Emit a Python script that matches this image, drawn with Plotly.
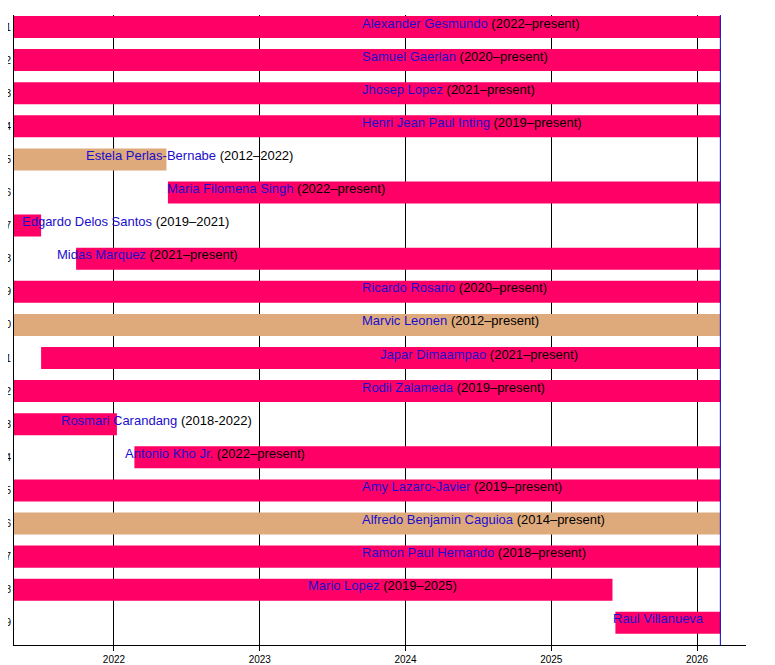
import plotly.graph_objects as go

# seats, top to bottom
seats = [str(i) for i in range(1, 20)]
justices = ["Alexander Gesmundo", "Samuel Gaerlan", "Jhosep Lopez", "Henri Jean Paul Inting",
            "Estela Perlas-Bernabe", "Maria Filomena Singh", "Edgardo Delos Santos",
            "Midas Marquez", "Ricardo Rosario", "Marvic Leonen", "Japar Dimaampao",
            "Rodil Zalameda", "Rosmari Carandang", "Antonio Kho Jr.", "Amy Lazaro-Javier",
            "Alfredo Benjamin Caguioa", "Ramon Paul Hernando", "Mario Lopez", "Raul Villanueva"]
terms = ["(2022–present)", "(2020–present)", "(2021–present)", "(2019–present)",
         "(2012–2022)", "(2022–present)", "(2019–2021)", "(2021–present)", "(2020–present)",
         "(2012–present)", "(2021–present)", "(2019–present)", "(2018-2022)", "(2022–present)",
         "(2019–present)", "(2014–present)", "(2018–present)", "(2019–2025)", ""]
now = 2026.16
starts = [2021.0, 2020.0, 2021.0, 2019.0, 2012.0, 2022.37, 2019.0, 2021.74, 2020.0, 2012.0,
          2021.50, 2019.0, 2018.0, 2022.14, 2019.0, 2014.0, 2018.0, 2019.0, 2025.44]
ends = [now, now, now, now, 2022.36, now, 2021.50, now, now, now,
        now, now, 2022.02, now, now, now, now, 2025.42, now]
group = ["a", "a", "a", "a", "b", "a", "a", "a", "a", "b",
         "a", "a", "a", "a", "a", "b", "a", "a", "a"]
label_at = [2023.71, 2023.71, 2023.71, 2023.71, 2021.815, 2022.37, 2021.375, 2021.616, 2023.71,
            2023.71, 2023.833, 2023.71, 2021.643, 2022.082, 2023.71, 2023.71, 2023.71, 2023.338,
            2025.432]
years = [2022, 2023, 2024, 2025, 2026]

group_colors = {"a": "#FF0066", "b": "#DEAA7B"}
rows = list(range(1, len(seats) + 1))

fig = go.Figure()
fig.add_trace(go.Bar(
    y=rows, base=starts, x=[e - s for s, e in zip(starts, ends)],
    orientation="h", width=0.665,
    marker=dict(color=[group_colors[g] for g in group], line=dict(width=0)),
    hoverinfo="skip",
))

for r, name, term, lx in zip(rows, justices, terms, label_at):
    txt = "<span style='color:#1a0dcc'>" + name + "</span>"
    if term:
        txt += " " + term
    fig.add_annotation(x=lx, y=r, text=txt, showarrow=False, xanchor="left",
                       yanchor="middle", yshift=4, xshift=-3,
                       font=dict(family="Liberation Sans, Arial", size=13, color="black"))

fig.add_shape(type="line", x0=now, x1=now, y0=0, y1=1, yref="y domain",
              line=dict(color="#0000CC", width=1))

fig.update_layout(
    width=775, height=665,
    margin=dict(l=6, r=37, t=7, b=28),
    plot_bgcolor="white", paper_bgcolor="white",
    showlegend=False,
    font=dict(family="Liberation Sans, Arial", color="black"),
)
fig.update_xaxes(range=[2021.314, 2026.336], tickvals=years, ticktext=[str(y) for y in years],
                 showgrid=True, gridcolor="black", gridwidth=1, showline=True,
                 linecolor="black", linewidth=1, ticks="outside", ticklen=5,
                 tickcolor="black", tickfont=dict(size=10), zeroline=False, automargin=False)
fig.update_yaxes(range=[19.67, 0.6375], tickvals=rows, ticktext=seats, showgrid=False,
                 showline=True, linecolor="black", linewidth=1, ticks="",
                 tickfont=dict(size=10), zeroline=False, automargin=False)

fig.write_html("out.html")
